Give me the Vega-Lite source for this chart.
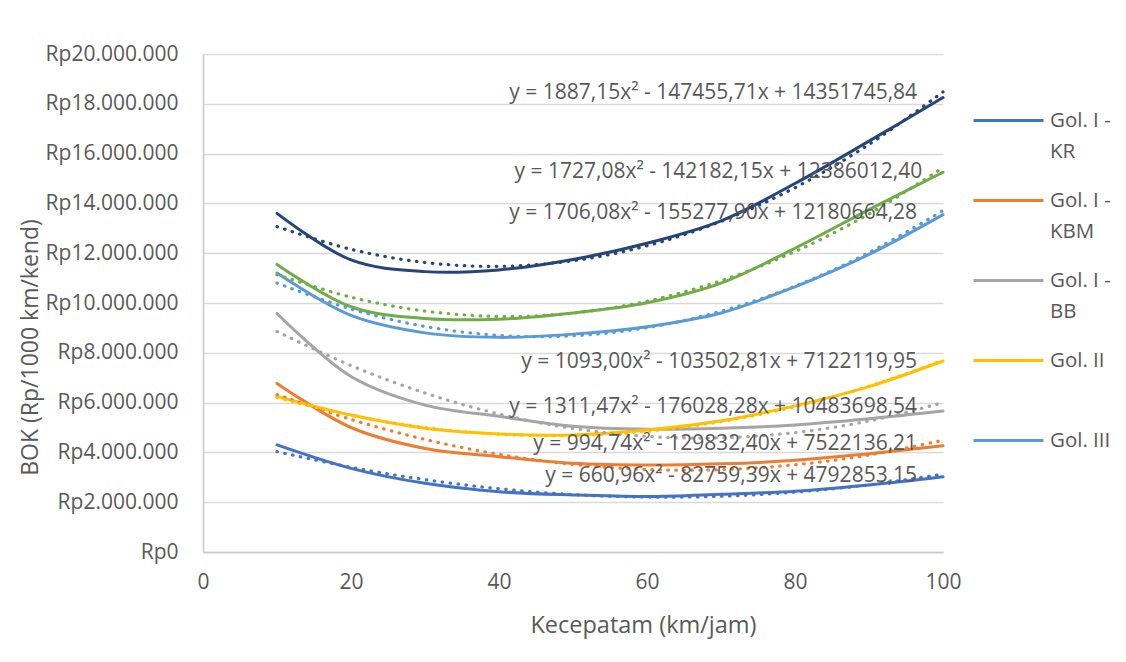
{
  "$schema": "https://vega.github.io/schema/vega-lite/v6.json",
  "width": 740,
  "height": 498,
  "autosize": {"type": "none"},
  "padding": {"left": 203, "top": 54, "right": 183, "bottom": 110},
  "background": "white",
  "config": {
    "view": {"stroke": null},
    "font": "Open Sans",
    "axis": {"labelColor": "#595959", "titleColor": "#595959", "labelFont": "Open Sans", "titleFont": "Open Sans", "titleFontWeight": "normal"},
    "legend": {"labelFont": "Open Sans", "labelColor": "#595959"}
  },
  "datasets": {
    "series": [
      {"series": "Gol. I - KR", "kind": "data", "x": 10, "y": 4300000},
      {"series": "Gol. I - KR", "kind": "data", "x": 20, "y": 3360000},
      {"series": "Gol. I - KR", "kind": "data", "x": 30, "y": 2760000},
      {"series": "Gol. I - KR", "kind": "data", "x": 40, "y": 2420000},
      {"series": "Gol. I - KR", "kind": "data", "x": 50, "y": 2290000},
      {"series": "Gol. I - KR", "kind": "data", "x": 60, "y": 2230000},
      {"series": "Gol. I - KR", "kind": "data", "x": 70, "y": 2320000},
      {"series": "Gol. I - KR", "kind": "data", "x": 80, "y": 2440000},
      {"series": "Gol. I - KR", "kind": "data", "x": 90, "y": 2690000},
      {"series": "Gol. I - KR", "kind": "data", "x": 100, "y": 3020000},
      {"series": "Gol. I - KBM", "kind": "data", "x": 10, "y": 6770000},
      {"series": "Gol. I - KBM", "kind": "data", "x": 20, "y": 5000000},
      {"series": "Gol. I - KBM", "kind": "data", "x": 30, "y": 4160000},
      {"series": "Gol. I - KBM", "kind": "data", "x": 40, "y": 3830000},
      {"series": "Gol. I - KBM", "kind": "data", "x": 50, "y": 3560000},
      {"series": "Gol. I - KBM", "kind": "data", "x": 60, "y": 3490000},
      {"series": "Gol. I - KBM", "kind": "data", "x": 70, "y": 3540000},
      {"series": "Gol. I - KBM", "kind": "data", "x": 80, "y": 3680000},
      {"series": "Gol. I - KBM", "kind": "data", "x": 90, "y": 3950000},
      {"series": "Gol. I - KBM", "kind": "data", "x": 100, "y": 4270000},
      {"series": "Gol. I - BB", "kind": "data", "x": 10, "y": 9580000},
      {"series": "Gol. I - BB", "kind": "data", "x": 20, "y": 7050000},
      {"series": "Gol. I - BB", "kind": "data", "x": 30, "y": 5900000},
      {"series": "Gol. I - BB", "kind": "data", "x": 40, "y": 5450000},
      {"series": "Gol. I - BB", "kind": "data", "x": 50, "y": 5050000},
      {"series": "Gol. I - BB", "kind": "data", "x": 60, "y": 4930000},
      {"series": "Gol. I - BB", "kind": "data", "x": 70, "y": 4970000},
      {"series": "Gol. I - BB", "kind": "data", "x": 80, "y": 5100000},
      {"series": "Gol. I - BB", "kind": "data", "x": 90, "y": 5350000},
      {"series": "Gol. I - BB", "kind": "data", "x": 100, "y": 5660000},
      {"series": "Gol. II", "kind": "data", "x": 10, "y": 6250000},
      {"series": "Gol. II", "kind": "data", "x": 20, "y": 5500000},
      {"series": "Gol. II", "kind": "data", "x": 30, "y": 4970000},
      {"series": "Gol. II", "kind": "data", "x": 40, "y": 4740000},
      {"series": "Gol. II", "kind": "data", "x": 50, "y": 4700000},
      {"series": "Gol. II", "kind": "data", "x": 60, "y": 4900000},
      {"series": "Gol. II", "kind": "data", "x": 70, "y": 5270000},
      {"series": "Gol. II", "kind": "data", "x": 80, "y": 5870000},
      {"series": "Gol. II", "kind": "data", "x": 90, "y": 6640000},
      {"series": "Gol. II", "kind": "data", "x": 100, "y": 7670000},
      {"series": "Gol. III", "kind": "data", "x": 10, "y": 11200000},
      {"series": "Gol. III", "kind": "data", "x": 20, "y": 9500000},
      {"series": "Gol. III", "kind": "data", "x": 30, "y": 8800000},
      {"series": "Gol. III", "kind": "data", "x": 40, "y": 8620000},
      {"series": "Gol. III", "kind": "data", "x": 50, "y": 8750000},
      {"series": "Gol. III", "kind": "data", "x": 60, "y": 9050000},
      {"series": "Gol. III", "kind": "data", "x": 70, "y": 9600000},
      {"series": "Gol. III", "kind": "data", "x": 80, "y": 10650000},
      {"series": "Gol. III", "kind": "data", "x": 90, "y": 11950000},
      {"series": "Gol. III", "kind": "data", "x": 100, "y": 13550000},
      {"series": "Gol. IV", "kind": "data", "x": 10, "y": 11550000},
      {"series": "Gol. IV", "kind": "data", "x": 20, "y": 9850000},
      {"series": "Gol. IV", "kind": "data", "x": 30, "y": 9380000},
      {"series": "Gol. IV", "kind": "data", "x": 40, "y": 9350000},
      {"series": "Gol. IV", "kind": "data", "x": 50, "y": 9600000},
      {"series": "Gol. IV", "kind": "data", "x": 60, "y": 10010000},
      {"series": "Gol. IV", "kind": "data", "x": 70, "y": 10800000},
      {"series": "Gol. IV", "kind": "data", "x": 80, "y": 12200000},
      {"series": "Gol. IV", "kind": "data", "x": 90, "y": 13750000},
      {"series": "Gol. IV", "kind": "data", "x": 100, "y": 15250000},
      {"series": "Gol. V", "kind": "data", "x": 10, "y": 13600000},
      {"series": "Gol. V", "kind": "data", "x": 20, "y": 11730000},
      {"series": "Gol. V", "kind": "data", "x": 30, "y": 11260000},
      {"series": "Gol. V", "kind": "data", "x": 40, "y": 11330000},
      {"series": "Gol. V", "kind": "data", "x": 50, "y": 11750000},
      {"series": "Gol. V", "kind": "data", "x": 60, "y": 12400000},
      {"series": "Gol. V", "kind": "data", "x": 70, "y": 13300000},
      {"series": "Gol. V", "kind": "data", "x": 80, "y": 14800000},
      {"series": "Gol. V", "kind": "data", "x": 90, "y": 16500000},
      {"series": "Gol. V", "kind": "data", "x": 100, "y": 18250000},

      {"series": "Gol. I - KR", "kind": "trend", "x": 10, "y": 4031355},
      {"series": "Gol. I - KR", "kind": "trend", "x": 20, "y": 3402049},
      {"series": "Gol. I - KR", "kind": "trend", "x": 30, "y": 2904935},
      {"series": "Gol. I - KR", "kind": "trend", "x": 40, "y": 2540013},
      {"series": "Gol. I - KR", "kind": "trend", "x": 50, "y": 2307283},
      {"series": "Gol. I - KR", "kind": "trend", "x": 60, "y": 2206746},
      {"series": "Gol. I - KR", "kind": "trend", "x": 70, "y": 2238400},
      {"series": "Gol. I - KR", "kind": "trend", "x": 80, "y": 2402246},
      {"series": "Gol. I - KR", "kind": "trend", "x": 90, "y": 2698284},
      {"series": "Gol. I - KR", "kind": "trend", "x": 100, "y": 3126514},
      {"series": "Gol. I - KBM", "kind": "trend", "x": 10, "y": 6323286},
      {"series": "Gol. I - KBM", "kind": "trend", "x": 20, "y": 5323384},
      {"series": "Gol. I - KBM", "kind": "trend", "x": 30, "y": 4522430},
      {"series": "Gol. I - KBM", "kind": "trend", "x": 40, "y": 3920424},
      {"series": "Gol. I - KBM", "kind": "trend", "x": 50, "y": 3517366},
      {"series": "Gol. I - KBM", "kind": "trend", "x": 60, "y": 3313256},
      {"series": "Gol. I - KBM", "kind": "trend", "x": 70, "y": 3308094},
      {"series": "Gol. I - KBM", "kind": "trend", "x": 80, "y": 3501880},
      {"series": "Gol. I - KBM", "kind": "trend", "x": 90, "y": 3894614},
      {"series": "Gol. I - KBM", "kind": "trend", "x": 100, "y": 4486296},
      {"series": "Gol. I - BB", "kind": "trend", "x": 10, "y": 8854563},
      {"series": "Gol. I - BB", "kind": "trend", "x": 20, "y": 7487721},
      {"series": "Gol. I - BB", "kind": "trend", "x": 30, "y": 6383174},
      {"series": "Gol. I - BB", "kind": "trend", "x": 40, "y": 5540920},
      {"series": "Gol. I - BB", "kind": "trend", "x": 50, "y": 4960960},
      {"series": "Gol. I - BB", "kind": "trend", "x": 60, "y": 4643294},
      {"series": "Gol. I - BB", "kind": "trend", "x": 70, "y": 4587922},
      {"series": "Gol. I - BB", "kind": "trend", "x": 80, "y": 4794845},
      {"series": "Gol. I - BB", "kind": "trend", "x": 90, "y": 5264061},
      {"series": "Gol. I - BB", "kind": "trend", "x": 100, "y": 5995571},
      {"series": "Gol. II", "kind": "trend", "x": 10, "y": 6196392},
      {"series": "Gol. II", "kind": "trend", "x": 20, "y": 5489264},
      {"series": "Gol. II", "kind": "trend", "x": 30, "y": 5000736},
      {"series": "Gol. II", "kind": "trend", "x": 40, "y": 4730808},
      {"series": "Gol. II", "kind": "trend", "x": 50, "y": 4679479},
      {"series": "Gol. II", "kind": "trend", "x": 60, "y": 4846751},
      {"series": "Gol. II", "kind": "trend", "x": 70, "y": 5232623},
      {"series": "Gol. II", "kind": "trend", "x": 80, "y": 5837095},
      {"series": "Gol. II", "kind": "trend", "x": 90, "y": 6660167},
      {"series": "Gol. II", "kind": "trend", "x": 100, "y": 7701839},
      {"series": "Gol. III", "kind": "trend", "x": 10, "y": 10798493},
      {"series": "Gol. III", "kind": "trend", "x": 20, "y": 9757538},
      {"series": "Gol. III", "kind": "trend", "x": 30, "y": 9057799},
      {"series": "Gol. III", "kind": "trend", "x": 40, "y": 8699276},
      {"series": "Gol. III", "kind": "trend", "x": 50, "y": 8681969},
      {"series": "Gol. III", "kind": "trend", "x": 60, "y": 9005878},
      {"series": "Gol. III", "kind": "trend", "x": 70, "y": 9671003},
      {"series": "Gol. III", "kind": "trend", "x": 80, "y": 10677344},
      {"series": "Gol. III", "kind": "trend", "x": 90, "y": 12024901},
      {"series": "Gol. III", "kind": "trend", "x": 100, "y": 13713674},
      {"series": "Gol. IV", "kind": "trend", "x": 10, "y": 11136898},
      {"series": "Gol. IV", "kind": "trend", "x": 20, "y": 10233201},
      {"series": "Gol. IV", "kind": "trend", "x": 30, "y": 9674919},
      {"series": "Gol. IV", "kind": "trend", "x": 40, "y": 9462054},
      {"series": "Gol. IV", "kind": "trend", "x": 50, "y": 9594604},
      {"series": "Gol. IV", "kind": "trend", "x": 60, "y": 10072571},
      {"series": "Gol. IV", "kind": "trend", "x": 70, "y": 10895953},
      {"series": "Gol. IV", "kind": "trend", "x": 80, "y": 12064752},
      {"series": "Gol. IV", "kind": "trend", "x": 90, "y": 13578966},
      {"series": "Gol. IV", "kind": "trend", "x": 100, "y": 15438597},
      {"series": "Gol. V", "kind": "trend", "x": 10, "y": 13065904},
      {"series": "Gol. V", "kind": "trend", "x": 20, "y": 12157492},
      {"series": "Gol. V", "kind": "trend", "x": 30, "y": 11626510},
      {"series": "Gol. V", "kind": "trend", "x": 40, "y": 11472958},
      {"series": "Gol. V", "kind": "trend", "x": 50, "y": 11696835},
      {"series": "Gol. V", "kind": "trend", "x": 60, "y": 12298143},
      {"series": "Gol. V", "kind": "trend", "x": 70, "y": 13276881},
      {"series": "Gol. V", "kind": "trend", "x": 80, "y": 14633049},
      {"series": "Gol. V", "kind": "trend", "x": 90, "y": 16366647},
      {"series": "Gol. V", "kind": "trend", "x": 100, "y": 18477675}
    ],
    "labels": [
      {"series": "Gol. V", "x": 96.5, "y": 18430000, "text": "y = 1887,15x² - 147455,71x + 14351745,84"},
      {"series": "Gol. IV", "x": 97.2, "y": 15260000, "text": "y = 1727,08x² - 142182,15x + 12386012,40"},
      {"series": "Gol. III", "x": 96.5, "y": 13610000, "text": "y = 1706,08x² - 155277,90x + 12180664,28"},
      {"series": "Gol. II", "x": 96.5, "y": 7630000, "text": "y = 1093,00x² - 103502,81x + 7122119,95"},
      {"series": "Gol. I - BB", "x": 96.5, "y": 5820000, "text": "y = 1311,47x² - 176028,28x + 10483698,54"},
      {"series": "Gol. I - KBM", "x": 96.5, "y": 4330000, "text": "y = 994,74x² - 129832,40x + 7522136,21"},
      {"series": "Gol. I - KR", "x": 96.5, "y": 3050000, "text": "y = 660,96x² - 82759,39x + 4792853,15"}
    ]
  },
  "layer": [
    {
      "data": {"name": "series"},
      "transform": [{"filter": "datum.kind == 'data'"}],
      "mark": {"type": "line", "interpolate": "catmull-rom", "strokeWidth": 3, "strokeCap": "round"},
      "encoding": {
        "x": {
          "field": "x", "type": "quantitative",
          "scale": {"domain": [0, 100], "nice": false},
          "axis": {
            "values": [0, 20, 40, 60, 80, 100],
            "title": "Kecepatam (km/jam)",
            "titleFontSize": 23.5,
            "titleX": 440, "titleY": 73, "titleAnchor": "middle", "titleAlign": "center", "titleBaseline": "middle",
            "labelFontSize": 21, "labelPadding": 19, "labelFlush": false,
            "ticks": false, "grid": false,
            "domainColor": "#C8C8C8", "domainWidth": 1.5
          }
        },
        "y": {
          "field": "y", "type": "quantitative",
          "scale": {"domain": [0, 20000000], "nice": false},
          "axis": {
            "values": [0, 2000000, 4000000, 6000000, 8000000, 10000000, 12000000, 14000000, 16000000, 18000000, 20000000],
            "labelExpr": "datum.value == 0 ? 'Rp0' : 'Rp' + format(datum.value / 1000000, 'd') + '.000.000'",
            "title": "BOK (Rp/1000 km/kend)",
            "titleFontSize": 23,
            "titleX": -173, "titleY": 293, "titleAngle": -90, "titleAlign": "center", "titleBaseline": "middle",
            "labelFontSize": 21, "labelPadding": 25, "labelFlush": false,
            "ticks": false, "grid": true, "gridColor": "#D9D9D9", "gridWidth": 1.5,
            "domainColor": "#C8C8C8", "domainWidth": 1.5
          }
        },
        "color": {
          "field": "series", "type": "nominal",
          "scale": {
            "domain": ["Gol. I - KR", "Gol. I - KBM", "Gol. I - BB", "Gol. II", "Gol. III", "Gol. IV", "Gol. V"],
            "range": ["#4472C4", "#ED7D31", "#A5A5A5", "#FFC000", "#5B9BD5", "#70AD47", "#264478"]
          },
          "legend": {
            "title": null,
            "values": ["Gol. I - KR", "Gol. I - KBM", "Gol. I - BB", "Gol. II", "Gol. III"],
            "orient": "none", "legendX": 769, "legendY": 30,
            "symbolType": "stroke", "symbolSize": 4900, "symbolStrokeWidth": 3,
            "labelFontSize": 20.5, "labelOffset": 5, "rowPadding": 2, "labelLimit": 200, "labelBaseline": "middle",
            "labelExpr": "indexof(datum.label, ' - ') > 0 ? [substring(datum.label, 0, indexof(datum.label, ' - ') + 2), substring(datum.label, indexof(datum.label, ' - ') + 3)] : [datum.label, ' ']",
            "encode": {"labels": {"update": {"lineHeight": {"value": 31}}}}
          }
        }
      }
    },
    {
      "data": {"name": "series"},
      "transform": [{"filter": "datum.kind == 'trend'"}],
      "mark": {"type": "line", "interpolate": "catmull-rom", "strokeWidth": 3.2, "strokeCap": "round", "strokeDash": [0.5, 7.5]},
      "encoding": {
        "x": {"field": "x", "type": "quantitative"},
        "y": {"field": "y", "type": "quantitative"},
        "color": {"field": "series", "type": "nominal"},
        "detail": {"field": "kind"}
      }
    },
    {
      "data": {"name": "labels"},
      "mark": {"type": "text", "align": "right", "baseline": "middle", "fontSize": 21, "color": "#595959", "font": "Open Sans"},
      "encoding": {
        "x": {"field": "x", "type": "quantitative"},
        "y": {"field": "y", "type": "quantitative"},
        "text": {"field": "text"}
      }
    }
  ]
}
